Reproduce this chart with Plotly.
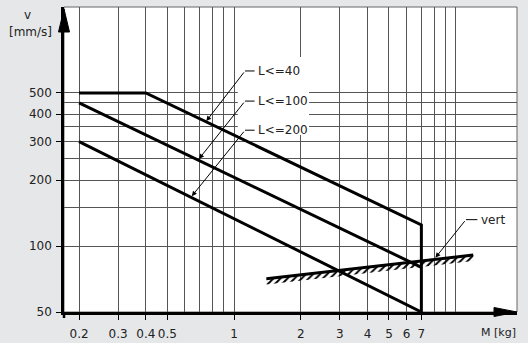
import math
import plotly.graph_objects as go

# ---- data ----
m_l40 = [0.2, 0.4, 7, 7]
v_l40 = [500, 500, 125, 50]
m_l100 = [0.2, 7]
v_l100 = [450, 80]
m_l200 = [0.2, 7]
v_l200 = [300, 50]
m_vert = [1.4, 12]
v_vert = [71, 91]

x_major = [0.2, 0.3, 0.4, 0.5, 1, 2, 3, 4, 5, 6, 7]
x_major_text = ["0.2", "0.3", "0.4", "0.5", "1", "2", "3", "4", "5", "6", "7"]
x_minor = [0.6, 0.7, 0.8, 0.9, 8, 9, 10]
y_major = [50, 100, 200, 300, 400, 500]
y_major_text = ["50", "100", "200", "300", "400", "500"]
y_minor = [150, 250, 350, 450]

labels = ["L<=40", "L<=100", "L<=200", "vert"]

FONT = "DejaVu Sans"
TXT = "#222"
LINE = dict(color="black", width=3)
HATCH_FACTOR = 0.94  # styling: depth of hatched band under the 'vert' line

W, H = 528, 343
L, R, T, B = 64, 11, 7, 31
pw, ph = W - L - R, H - T - B


def to_paper_x(px):
    return (px - L) / pw


def to_paper_y(py):
    return (H - B - py) / ph


fig = go.Figure()

# hatched band below "vert"
fig.add_trace(go.Scatter(x=m_vert, y=[v * HATCH_FACTOR for v in v_vert],
                         mode="lines", line=dict(width=0, color="rgba(0,0,0,0)"),
                         hoverinfo="skip", showlegend=False))
fig.add_trace(go.Scatter(x=m_vert, y=v_vert, mode="lines", line=LINE,
                         fill="tonexty", fillcolor="rgba(0,0,0,0)",
                         fillpattern=dict(shape="/", size=5, solidity=0.4,
                                          fgcolor="black", bgcolor="rgba(0,0,0,0)",
                                          fillmode="replace"),
                         showlegend=False, name="vert"))
fig.add_trace(go.Scatter(x=m_l40, y=v_l40, mode="lines", line=LINE, showlegend=False, name="L<=40"))
fig.add_trace(go.Scatter(x=m_l100, y=v_l100, mode="lines", line=LINE, showlegend=False, name="L<=100"))
fig.add_trace(go.Scatter(x=m_l200, y=v_l200, mode="lines", line=LINE, showlegend=False, name="L<=200"))

GRID = "#555555"
fig.update_xaxes(type="log", range=[math.log10(0.171), math.log10(18.9)],
                 tickmode="array", tickvals=x_major, ticktext=x_major_text,
                 showgrid=True, gridcolor=GRID, gridwidth=1,
                 minor=dict(tickmode="array", tickvals=x_minor, showgrid=True,
                            gridcolor=GRID, gridwidth=1, ticks=""),
                 ticks="outside", ticklen=5, tickwidth=1, tickcolor="black",
                 showline=True, linecolor="black", linewidth=2.5,
                 tickfont=dict(family=FONT, size=12, color=TXT),
                 ticklabelstandoff=4, zeroline=False, automargin=False)
fig.update_yaxes(type="log", range=[math.log10(50), math.log10(1234)],
                 tickmode="array", tickvals=y_major, ticktext=y_major_text,
                 showgrid=True, gridcolor=GRID, gridwidth=1,
                 minor=dict(tickmode="array", tickvals=y_minor, showgrid=True,
                            gridcolor=GRID, gridwidth=1, ticks=""),
                 ticks="outside", ticklen=5, tickwidth=1, tickcolor="black",
                 showline=True, linecolor="black", linewidth=2.5,
                 tickfont=dict(family=FONT, size=12, color=TXT),
                 ticklabelstandoff=2, zeroline=False, automargin=False)

shapes = []
# white box behind the labels (interrupts gridlines)
shapes.append(dict(type="rect", xref="x", yref="y", x0=1.04, x1=2.18, y0=321, y1=729,
                   fillcolor="white", line=dict(width=0), layer="between"))
# thin border top/right
shapes.append(dict(type="rect", xref="paper", yref="paper", x0=0, x1=1, y0=0, y1=1,
                   line=dict(color="#666", width=1), layer="below"))
# y-axis small extension below the x axis
shapes.append(dict(type="line", xref="paper", yref="paper", xsizemode="pixel", ysizemode="pixel",
                   xanchor=0, yanchor=0, x0=0, x1=0, y0=0, y1=-6,
                   line=dict(color="black", width=2.5), layer="above"))
# axis arrows
shapes.append(dict(type="path", xref="paper", yref="paper", xsizemode="pixel", ysizemode="pixel",
                   xanchor=0, yanchor=1, path="M -5.5,-25 L 0,-2 L 5.5,-25 Z",
                   fillcolor="black", line=dict(color="black", width=1), layer="above"))
shapes.append(dict(type="path", xref="paper", yref="paper", xsizemode="pixel", ysizemode="pixel",
                   xanchor=1, yanchor=0, path="M -23,4.5 L 0,0 L -23,-4.5 Z",
                   fillcolor="black", line=dict(color="black", width=1), layer="above"))

# label leaders: (text left x, corner x, y, tip x, tip y)
leaders = [
    (1.257, 1.121, 630, 0.75, 372),
    (1.257, 1.121, 459, 0.695, 250),
    (1.257, 1.121, 338, 0.645, 169),
    (12.72, 11.12, 132, 8.1, 88.5),
]
annotations = []
for text, (tx, cx, cy, px, py) in zip(labels, leaders):
    shapes.append(dict(type="line", xref="x", yref="y", x0=cx, x1=tx * 0.985, y0=cy, y1=cy,
                       line=dict(color="black", width=1), layer="above"))
    annotations.append(dict(x=math.log10(px), y=math.log10(py), xref="x", yref="y",
                            ax=math.log10(cx), ay=math.log10(cy), axref="x", ayref="y",
                            text="", showarrow=True, arrowhead=2, arrowsize=1,
                            arrowwidth=1, arrowcolor="black", standoff=0))
    annotations.append(dict(x=math.log10(tx), y=math.log10(cy), xref="x", yref="y",
                            text=text, showarrow=False, xanchor="left", yanchor="middle",
                            font=dict(family=FONT, size=12, color=TXT)))

annotations.append(dict(x=to_paper_x(27), y=to_paper_y(15), xref="paper", yref="paper",
                        text="v", showarrow=False, xanchor="center", yanchor="middle",
                        font=dict(family=FONT, size=12, color=TXT)))
annotations.append(dict(x=to_paper_x(30), y=to_paper_y(32), xref="paper", yref="paper",
                        text="[mm/s]", showarrow=False, xanchor="center", yanchor="middle",
                        font=dict(family=FONT, size=12, color=TXT)))
annotations.append(dict(x=to_paper_x(518), y=to_paper_y(332), xref="paper", yref="paper",
                        text="M [kg]", showarrow=False, xanchor="right", yanchor="middle",
                        font=dict(family=FONT, size=11, color=TXT)))

fig.update_layout(width=W, height=H, margin=dict(l=L, r=R, t=T, b=B),
                  paper_bgcolor="#e6e7e9", plot_bgcolor="white",
                  shapes=shapes, annotations=annotations, showlegend=False)

fig.write_html("out.html")
